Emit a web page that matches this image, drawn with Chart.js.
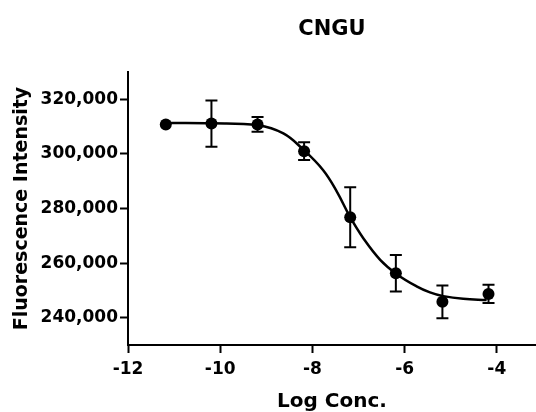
<!DOCTYPE html>
<html>
<head>
<meta charset="utf-8">
<script src="https://cdn.jsdelivr.net/npm/chart.js@4"></script>
<style>
html,body{margin:0;padding:0;background:#fff;}
#wrap{width:536px;height:412px;}
</style>
</head>
<body>
<div id="wrap"><canvas id="c" width="536" height="412"></canvas></div>
<script>
const logConc = [-11.18, -10.19, -9.19, -8.18, -7.18, -6.19, -5.18, -4.18];
const meanFI  = [310800, 311100, 310800, 301000, 276800, 256300, 245800, 248700];
const semFI   = [0, 8500, 2700, 3250, 11000, 6700, 6000, 3350];
const fitX = [-11.17, -10.19, -9.18, -8.63, -8.20, -7.77, -7.47, -7.18, -6.90, -6.53, -6.17, -5.74, -5.45, -5.16, -4.73, -4.22];
const fitY = [311300, 311200, 310500, 307500, 301600, 294100, 286200, 276800, 269200, 261200, 255950, 251500, 249300, 247900, 246900, 246500];
const xTicks = [-12, -10, -8, -6, -4];
const yTicks = [240000, 260000, 280000, 300000, 320000];

const FONT = "'DejaVu Sans', sans-serif";

const errorBars = {
  id: 'errorBars',
  beforeDatasetsDraw(chart) {
    const ctx = chart.ctx, xs = chart.scales.x, ys = chart.scales.y;
    ctx.save();
    ctx.strokeStyle = '#000';
    ctx.lineWidth = 2;
    logConc.forEach((xv, i) => {
      if (!semFI[i]) return;
      const px = xs.getPixelForValue(xv);
      const pt = ys.getPixelForValue(meanFI[i] + semFI[i]);
      const pb = ys.getPixelForValue(meanFI[i] - semFI[i]);
      const hw = 6;
      ctx.beginPath();
      ctx.moveTo(px, pt); ctx.lineTo(px, pb);
      ctx.moveTo(px - hw, pt); ctx.lineTo(px + hw, pt);
      ctx.moveTo(px - hw, pb); ctx.lineTo(px + hw, pb);
      ctx.stroke();
    });
    ctx.restore();
  }
};

new Chart(document.getElementById('c'), {
  type: 'scatter',
  data: {
    datasets: [
      {
        label: 'fit',
        data: fitX.map((x, i) => ({x, y: fitY[i]})),
        showLine: true,
        borderColor: '#000',
        borderWidth: 2.5,
        pointRadius: 0,
        tension: 0.4,
        fill: false
      },
      {
        label: 'CNGU',
        data: logConc.map((x, i) => ({x, y: meanFI[i]})),
        backgroundColor: '#000',
        borderColor: '#000',
        pointRadius: 6,
        pointHoverRadius: 6,
        borderWidth: 0
      }
    ]
  },
  options: {
    responsive: false,
    animation: false,
    devicePixelRatio: 1,
    layout: { padding: 0, autoPadding: false },
    plugins: {
      legend: { display: false },
      tooltip: { enabled: false },
      title: {
        display: true,
        text: 'CNGU',
        fullSize: false,
        color: '#000',
        font: { family: FONT, size: 21, weight: 'bold', lineHeight: 1.2 },
        padding: { top: 17, bottom: 29.8 }
      }
    },
    scales: {
      x: {
        type: 'linear',
        min: -12,
        max: -3.15,
        afterBuildTicks: s => { s.ticks = xTicks.map(v => ({value: v})); },
        afterFit: s => { s.height = 67; s.paddingLeft = 0; s.paddingRight = 0; },
        border: { display: true, color: '#000', width: 2 },
        grid: { display: true, drawOnChartArea: false, drawTicks: true, tickLength: 8, tickColor: '#000', tickWidth: 2 },
        ticks: { color: '#000', padding: 6, maxRotation: 0, font: { family: FONT, size: 17, weight: 'bold' } },
        title: { display: true, text: 'Log Conc.', color: '#000', font: { family: FONT, size: 20, weight: 'bold', lineHeight: 1 }, padding: { top: 0, bottom: 0 } }
      },
      y: {
        type: 'linear',
        min: 230000,
        max: 330000,
        afterBuildTicks: s => { s.ticks = yTicks.map(v => ({value: v})); },
        afterFit: s => { s.width = 128; s.paddingTop = 0; s.paddingBottom = 0; },
        border: { display: true, color: '#000', width: 2 },
        grid: { display: true, drawOnChartArea: false, drawTicks: true, tickLength: 8, tickColor: '#000', tickWidth: 2 },
        ticks: { color: '#000', padding: 2, font: { family: FONT, size: 17, weight: 'bold' },
                 callback: v => v.toLocaleString('en-US') },
        title: { display: true, text: 'Fluorescence Intensity', color: '#000', font: { family: FONT, size: 19, weight: 'bold', lineHeight: 1.2 }, padding: { top: 11, bottom: 0 } }
      }
    }
  },
  plugins: [errorBars]
});
</script>
</body>
</html>
